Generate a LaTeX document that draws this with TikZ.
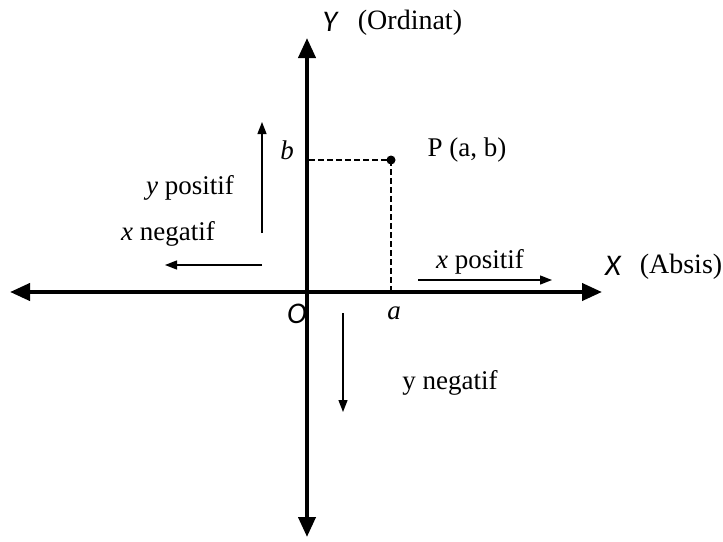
\documentclass[tikz,border=0pt]{standalone}
\usepackage{fontspec}
\setmainfont{Liberation Serif}
\newfontfamily\axisfont{Carlito}
\usepackage{tikz}
\usetikzlibrary{arrows.meta, positioning, calc}
\tikzstyle{axis} = [line width=4pt, {Triangle[length=20pt,width=17pt]}-{Triangle[length=20pt,width=17pt]}]
\tikzstyle{arrow} = [line width=1.3pt, -{Triangle[length=12pt,width=9pt]}]
\tikzstyle{guide} = [line width=1.2pt, dash pattern=on 6pt off 3pt]
\tikzstyle{label} = [inner sep=0pt, font=\fontsize{27}{30}\selectfont]
\tikzstyle{axislabel} = [inner sep=0pt, font=\axisfont\fontsize{30}{32}\selectfont\itshape]

\begin{document}
\begin{tikzpicture}[x=1pt, y=-1pt]
    \useasboundingbox (0,0) rectangle (723,541);

    % --- Sumbu ---
    \coordinate (xleft) at (10,292);
    \coordinate (xright) at (602,292);
    \coordinate (ytop) at (307,38);
    \coordinate (ybottom) at (307,537);
    \draw [axis] (xleft) -- (xright);
    \draw [axis] (ybottom) -- (ytop);

    % Label sumbu
    \node (ylabel) [axislabel] at (330,22) {Y};
    \node (ordinat) [label, font=\fontsize{28}{32}\selectfont] at (410,23) {(Ordinat)};
    \node (xlabel) [axislabel] at (613,266) {X};
    \node (absis) [label, font=\fontsize{28}{32}\selectfont] at (681,267) {(Absis)};
    \node (origin) [axislabel] at (297,314) {O};

    % --- Titik P ---
    \coordinate (p) at (391,160);
    \coordinate (pb) at (309,160);
    \coordinate (pa) at (391,290);
    \draw [guide] (pb) -- (p);
    \draw [guide] (p) -- (pa);
    \fill (p) circle (4.5pt);
    \node (plabel) [label] at (467,150) {P (a, b)};
    \node (blabel) [label, font=\fontsize{27}{30}\selectfont\itshape] at (287,150) {b};
    \node (alabel) [label, font=\fontsize{27}{30}\selectfont\itshape] at (394,313) {a};

    % --- Arah positif / negatif ---
    \coordinate (yposstart) at (262,233);
    \coordinate (yposend) at (262,122);
    \coordinate (xnegstart) at (262,265);
    \coordinate (xnegend) at (165,265);
    \coordinate (xposstart) at (418,280);
    \coordinate (xposend) at (552,280);
    \coordinate (ynegstart) at (343,313);
    \coordinate (ynegend) at (343,412);
    \draw [arrow] (yposstart) -- (yposend);
    \draw [arrow] (xnegstart) -- (xnegend);
    \draw [arrow] (xposstart) -- (xposend);
    \draw [arrow] (ynegstart) -- (ynegend);

    \node (ypos) [label] at (190,188) {\textit{y} positif};
    \node (xneg) [label] at (168,234) {\textit{x} negatif};
    \node (xpos) [label] at (480,262) {\textit{x} positif};
    \node (yneg) [label] at (450,383) {y negatif};

\end{tikzpicture}
\end{document}
